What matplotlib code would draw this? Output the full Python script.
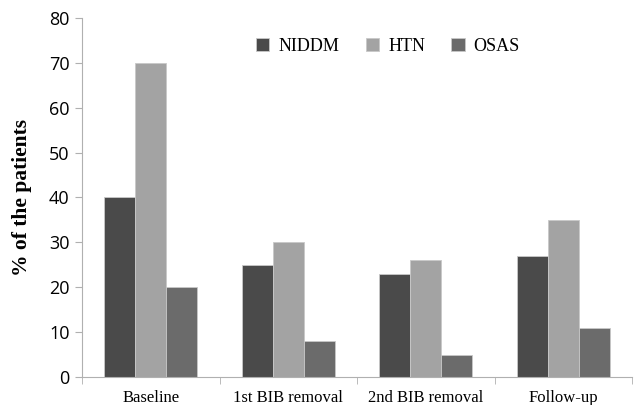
import numpy as np
import matplotlib
matplotlib.use("Agg")
import matplotlib.pyplot as plt

categories = ["Baseline", "1st BIB removal", "2nd BIB removal", "Follow-up"]
series_names = ["NIDDM", "HTN", "OSAS"]
niddm = [40, 25, 23, 27]
htn = [70, 30, 26, 35]
osas = [20, 8, 5, 11]
colors = ["#4a4a4a", "#a3a3a3", "#6b6b6b"]

fig = plt.figure(figsize=(6.36, 4.05), dpi=100)
ax = fig.add_axes([0.129, 0.069, 0.865, 0.887])

x = np.arange(len(categories))
w = 0.225
for i, (vals, name) in enumerate(zip([niddm, htn, osas], series_names)):
    ax.bar(x + (i - 1) * w, vals, width=w, color=colors[i], label=name,
           edgecolor="#c8c8c8", linewidth=0.6)

ax.set_xlim(-0.5, len(categories) - 0.5)
ax.set_ylim(0, 80)
ax.set_yticks(range(0, 81, 10))
ax.tick_params(axis="y", labelsize=13, length=5, color="#b0b0b0", pad=4)
for lab in ax.get_yticklabels():
    lab.set_fontfamily("Open Sans")

ax.set_xticks(x)
ax.set_xticklabels(categories, fontfamily="Liberation Serif", fontsize=12)
ax.tick_params(axis="x", length=0, pad=9)
ax.set_xticks(np.arange(-0.5, len(categories)), minor=True)
ax.tick_params(axis="x", which="minor", length=5, color="#b0b0b0")

for s in ["top", "right"]:
    ax.spines[s].set_visible(False)
for s in ["left", "bottom"]:
    ax.spines[s].set_color("#b0b0b0")

ax.set_ylabel("% of the patients", fontfamily="Liberation Serif",
              fontweight="bold", fontsize=15.5, labelpad=12)

ax.legend(loc="center", bbox_to_anchor=(0.556, 0.92), ncol=3, frameon=False,
          prop={"family": "Liberation Serif", "size": 13},
          handlelength=0.75, handleheight=0.75, columnspacing=1.45, handletextpad=0.5)

fig.savefig("out.png", dpi=100)
